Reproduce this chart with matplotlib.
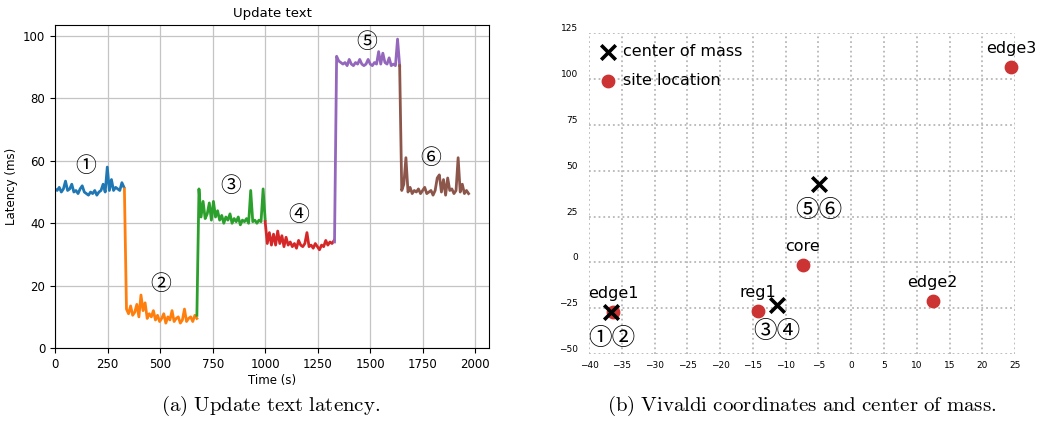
import matplotlib
matplotlib.use("Agg")
import matplotlib.pyplot as plt
import numpy as np

# ---- (a) latency per phase, ~10 s samples ----
phase_start = [0, 330, 675, 1000, 1330, 1640]
phase_end = [328, 675, 1000, 1328, 1640, 1968]
phase_colors = ['tab:blue', 'tab:orange', 'tab:green', 'tab:red', 'tab:purple', 'tab:brown']

lat_blue = [51, 50.5, 51.5, 50, 51, 53.5, 50.5, 51, 52.5, 50, 50.5, 49.5, 51, 52, 50, 49.5, 49,
            50, 49.5, 50.5, 49, 50, 50.5, 52.5, 50, 58, 50.5, 54, 50.5, 51.5, 51, 50.5, 53, 51.5]
lat_orange = [51, 12.5, 11, 13.5, 10.5, 11.5, 14, 10, 17, 12, 14.5, 9.5, 11, 10, 12, 9, 10.5, 8.5,
              9.5, 11, 8, 10, 9, 12, 8.5, 9.5, 10, 8, 9, 12.5, 8.5, 9.5, 10, 8.5, 10.5, 9.5]
lat_green = [10.5, 51, 42, 47, 41.5, 43, 46.5, 41, 47, 42, 44, 41, 42.5, 40, 42, 41, 43, 40, 41.5,
             40.5, 42, 39.5, 41, 40.5, 41.5, 40, 50.5, 40.5, 41, 40, 41, 40.5, 51, 41]
lat_red = [40.5, 33.5, 37, 33, 36.5, 33, 37.5, 33.5, 36, 32.5, 35.5, 33, 34, 32.5, 33.5, 32, 34.5,
           33, 32.5, 33.5, 37, 32.5, 33, 32, 33.5, 32.5, 31.5, 33, 32.5, 34.5, 33, 34, 33.5, 34.5]
lat_purple = [34, 93.5, 92, 91.5, 91, 91.5, 90.5, 92.5, 91, 90.5, 91.5, 91, 92.5, 91, 90.5, 91,
              92.5, 91, 90.5, 91.5, 91, 95, 91, 94.5, 91.5, 91, 93, 90.5, 91, 90.5, 99, 90.5]
lat_brown = [90.5, 50.5, 52.5, 61, 50, 51.5, 49.5, 50.5, 50, 51, 49.5, 50.5, 51.5, 49.5, 50, 50.5,
             49, 50.5, 54.5, 55.5, 50, 54, 49, 54.5, 50.5, 51, 49.5, 50.5, 61, 50, 52.5, 49.5, 50.5, 49.5]
phases = [lat_blue, lat_orange, lat_green, lat_red, lat_purple, lat_brown]

phase_labels = ['\u2460', '\u2461', '\u2462', '\u2463', '\u2464', '\u2465']
label_t = [145, 505, 838, 1162, 1481, 1790]
label_v = [58.5, 20.5, 52, 42.5, 98, 61]

# ---- (b) Vivaldi coordinates ----
site_names = ['edge1', 'reg1', 'core', 'edge2', 'edge3']
site_x = [-36.3, -14.2, -7.4, 12.4, 24.4]
site_y = [-27, -26.5, -1.5, -21, 106.5]

com_x = [-36.6, -11.4, -4.9]
com_y = [-27, -23.5, 42.5]
com_labels = ['\u2460\u2461', '\u2462\u2463', '\u2464\u2465']

circ_fonts = ['Noto Sans CJK JP', 'DejaVu Sans']

fig = plt.figure(figsize=(10.39, 4.25), dpi=100)

# left panel
ax1 = fig.add_axes([0.053, 0.181, 0.418, 0.760])
for t0, t1, vals, c in zip(phase_start, phase_end, phases, phase_colors):
    t = np.linspace(t0, t1, len(vals))
    ax1.plot(t, vals, color=c, lw=2.0)
for lab, t, v in zip(phase_labels, label_t, label_v):
    ax1.text(t, v, lab, family=circ_fonts, fontsize=15, ha='center', va='center')
ax1.set_xlim(0, 2067)
ax1.set_ylim(0, 103.5)
ax1.set_xticks([0, 250, 500, 750, 1000, 1250, 1500, 1750, 2000])
ax1.set_yticks([0, 20, 40, 60, 80, 100])
ax1.tick_params(labelsize=8.5)
ax1.grid(True, color='#c4c4c4', lw=0.9)
ax1.set_title('Update text', fontsize=9.5, pad=6)
ax1.set_xlabel('Time (s)', fontsize=8.5, labelpad=2)
ax1.set_ylabel('Latency (ms)', fontsize=8.5)

# right panel
ax2 = fig.add_axes([0.567, 0.167, 0.410, 0.755])
ax2.set_xlim(-40, 25)
ax2.set_ylim(-50, 125)
ax2.set_xticks(np.arange(-40, 26, 5))
ax2.set_yticks(np.arange(-50, 126, 25))
ax2.grid(True, color='#b8b8b8', ls=':', lw=1.3)
for s in ax2.spines.values():
    s.set_visible(False)
ax2.tick_params(length=0, labelsize=6.5, pad=5)
ax2.tick_params(axis='y', pad=8)
for lab in ax2.get_yticklabels():
    lab.set_va('bottom')

ax2.scatter(com_x, com_y, marker='x', s=110, color='black', linewidths=2.6,
            label='center of mass', zorder=4, clip_on=False)
ax2.scatter(site_x, site_y, marker='o', s=80, color='#cc3333',
            label='site location', zorder=3, clip_on=False)
for name, x, y in zip(site_names, site_x, site_y):
    ax2.text(x, y + 6, name, fontsize=11.5, ha='center', va='bottom')
for lab, x, y in zip(com_labels, com_x, com_y):
    ax2.text(x, y - 8, lab, family=circ_fonts, fontsize=17, ha='center', va='top')
ax2.legend(loc='upper left', frameon=False, fontsize=11.5, handletextpad=0.4,
           borderaxespad=0.3, labelspacing=0.85, handlelength=1.0)

# captions
fig.text(0.26, 0.045, r'$\mathrm{(a)\ Update\ text\ latency.}$', fontsize=15,
         math_fontfamily='cm', ha='center', va='center')
fig.text(0.772, 0.045, r'$\mathrm{(b)\ Vivaldi\ coordinates\ and\ center\ of\ mass.}$',
         fontsize=15, math_fontfamily='cm', ha='center', va='center')

fig.savefig('out.png', dpi=100)
